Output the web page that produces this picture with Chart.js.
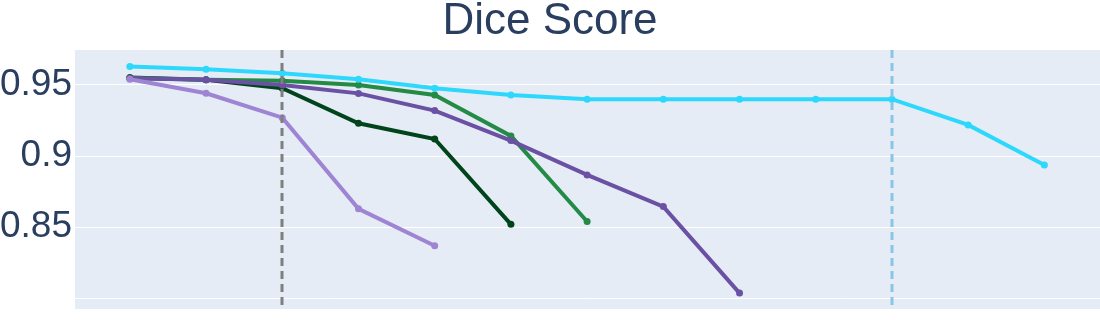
<!DOCTYPE html>
<html>
<head>
<meta charset="utf-8">
<script src="https://cdn.jsdelivr.net/npm/chart.js@4/dist/chart.umd.min.js"></script>
<style>
html,body{margin:0;padding:0;background:#fff;}
#wrap{width:1100px;height:320px;}
</style>
</head>
<body>
<div id="wrap"><canvas id="diceChart" width="1100" height="320"></canvas></div>
<script>
// data
const steps = [0,1,2,3,4,5,6,7,8,9,10,11,12];
const cyanScores = [0.9630,0.9611,0.9582,0.9540,0.9477,0.9430,0.9400,0.9400,0.9400,0.9400,0.9400,0.9219,0.8938];
const greenScores = [0.9550,0.9537,0.9530,0.9500,0.9430,0.9142,0.8540];
const darkGreenScores = [0.9552,0.9537,0.9477,0.9231,0.9120,0.8520];
const purpleScores = [0.9548,0.9537,0.9500,0.9441,0.9320,0.9109,0.8868,0.8645,0.8037];
const lightPurpleScores = [0.9540,0.9442,0.9270,0.8629,0.8370];
const yTicks = [0.8,0.85,0.9,0.95];
const markerLines = [
  {step:2, color:"#7f7f7f"},
  {step:10, color:"#87c6e6"}
];

function pts(vals){
  return vals.map((v,i)=>({x:steps[i], y:v}));
}

function series(vals,color){
  return {
    data: pts(vals),
    borderColor: color,
    backgroundColor: color,
    borderWidth: 4,
    pointRadius: 3.5,
    pointHoverRadius: 3.5,
    pointBorderWidth: 0,
    tension: 0
  };
}

// plot background like plotly
const bgPlugin = {
  id:"plotBg",
  beforeDraw(chart){
    const a = chart.chartArea, c = chart.ctx;
    c.save();
    c.fillStyle = "#e5ecf6";
    c.fillRect(a.left, a.top, a.right-a.left, a.bottom-a.top);
    c.restore();
  }
};

// dashed vertical markers
const vlinePlugin = {
  id:"vlines",
  afterDatasetsDraw(chart){
    const a = chart.chartArea, c = chart.ctx, xs = chart.scales.x;
    c.save();
    c.lineWidth = 3;
    c.setLineDash([8,5]);
    markerLines.forEach(m=>{
      const px = Math.round(xs.getPixelForValue(m.step));
      c.strokeStyle = m.color;
      c.beginPath();
      c.moveTo(px, a.top);
      c.lineTo(px, a.bottom);
      c.stroke();
    });
    c.restore();
  }
};

const ctx = document.getElementById("diceChart").getContext("2d");

// chart.js paints the first dataset on top
new Chart(ctx,{
  type:"line",
  data:{
    datasets:[
      series(cyanScores,"#2ed8fc"),
      series(lightPurpleScores,"#9e84d2"),
      series(purpleScores,"#6a51a3"),
      series(greenScores,"#238b45"),
      series(darkGreenScores,"#00441b")
    ]
  },
  options:{
    responsive:false,
    animation:false,
    layout:{autoPadding:false, padding:{left:0,right:0,top:0,bottom:11}},
    plugins:{
      legend:{display:false},
      tooltip:{enabled:false},
      title:{
        display:true,
        text:"Dice Score",
        color:"#2a3f5f",
        font:{family:"'Liberation Sans', Arial, sans-serif", size:44, weight:"normal", lineHeight:1},
        padding:{top:0,bottom:6}
      }
    },
    scales:{
      x:{
        type:"linear",
        min:-0.72,
        max:12.73,
        display:false
      },
      y:{
        min:0.7925,
        max:0.9746,
        afterBuildTicks(scale){
          scale.ticks = yTicks.map(v=>({value:v}));
        },
        afterFit(scale){
          scale.width = 75;
          scale.paddingTop = 0;
          scale.paddingBottom = 0;
        },
        border:{display:false},
        grid:{color:"#ffffff", lineWidth:1, drawTicks:false},
        ticks:{
          color:"#2a3f5f",
          padding:3,
          autoSkip:false,
          font:{family:"'Liberation Sans', Arial, sans-serif", size:37},
          callback(v){
            if(Math.abs(v-0.8)<1e-9) return "";
            return String(+v.toFixed(2));
          }
        }
      }
    }
  },
  plugins:[bgPlugin, vlinePlugin]
});
</script>
</body>
</html>
